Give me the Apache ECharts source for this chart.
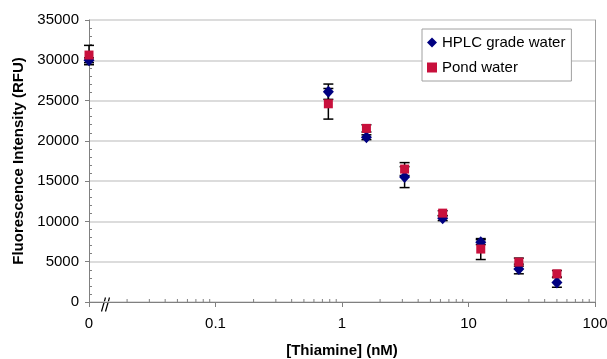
<!DOCTYPE html>
<html>
<head>
<meta charset="utf-8">
<script src="https://cdn.jsdelivr.net/npm/echarts@6/dist/echarts.min.js"></script>
<style>
  html, body { margin: 0; padding: 0; background: #fff; }
  #chart { width: 607px; height: 359px; }
</style>
</head>
<body>
<div id="chart"></div>
<script>
// concentration in nM; the "0" sample sits at the left end of the axis (0.01, shown as 0)
const concentrations = [0.01, 0.78, 1.56, 3.125, 6.25, 12.5, 25, 50];
const hplcValues = [30000, 26100, 20450, 15500, 10400, 7430, 4100, 2430];
const hplcErrors = [300, 950, 300, 1300, 300, 300, 600, 600];
const pondValues = [30650, 24600, 21550, 16500, 11030, 6570, 4950, 3500];
const pondErrors = [1200, 1900, 450, 800, 300, 1300, 500, 400];
const xMinorTicks = [0.02, 0.03, 0.04, 0.05, 0.06, 0.07, 0.08, 0.09,
  0.2, 0.3, 0.4, 0.5, 0.6, 0.7, 0.8, 0.9,
  2, 3, 4, 5, 6, 7, 8, 9,
  20, 30, 40, 50, 60, 70, 80, 90];

const FONT = 'Arial, "Liberation Sans", sans-serif';
const HPLC_COLOR = '#000080';
const POND_COLOR = '#c8103c';

const chart = echarts.init(document.getElementById('chart'), null, { renderer: 'canvas' });

// error bars with caps, drawn under the markers
function errorBars(values, errors) {
  return {
    type: 'custom',
    clip: false,
    z: 1,
    silent: true,
    data: concentrations.map((c, i) => [c, values[i] - errors[i], values[i] + errors[i]]),
    renderItem: function (params, api) {
      const lo = api.coord([api.value(0), api.value(1)]);
      const hi = api.coord([api.value(0), api.value(2)]);
      const half = 5;
      const style = { stroke: '#000', lineWidth: 1.5 };
      return {
        type: 'group',
        children: [
          { type: 'line', shape: { x1: lo[0], y1: lo[1], x2: hi[0], y2: hi[1] }, style: style },
          { type: 'line', shape: { x1: lo[0] - half, y1: lo[1], x2: lo[0] + half, y2: lo[1] }, style: style },
          { type: 'line', shape: { x1: hi[0] - half, y1: hi[1], x2: hi[0] + half, y2: hi[1] }, style: style }
        ]
      };
    }
  };
}

const option = {
  animation: false,
  textStyle: { fontFamily: FONT },
  grid: { left: 89, right: 12, top: 20, bottom: 57, containLabel: false, outerBoundsMode: 'none' },
  legend: {
    orient: 'vertical',
    left: 422,
    top: 29,
    padding: [6, 6, 6, 5],
    itemGap: 10,
    itemWidth: 10,
    itemHeight: 10,
    backgroundColor: '#fff',
    borderColor: '#a0a0a0',
    borderWidth: 1,
    textStyle: { fontFamily: FONT, fontSize: 15, color: '#000' },
    data: [
      { name: 'HPLC grade water', icon: 'diamond' },
      { name: 'Pond water', icon: 'rect' }
    ]
  },
  xAxis: {
    type: 'log',
    logBase: 10,
    min: 0.01,
    max: 100,
    name: '[Thiamine] (nM)',
    nameLocation: 'middle',
    nameGap: 41,
    nameTextStyle: { fontFamily: FONT, fontSize: 15, fontWeight: 'bold', color: '#000' },
    axisLine: { lineStyle: { color: '#808080', width: 1 } },
    axisTick: { show: true, length: 5, lineStyle: { color: '#808080' } },
    axisLabel: {
      margin: 14,
      fontFamily: FONT,
      fontSize: 15,
      color: '#000',
      formatter: function (v) { return v < 0.05 ? '0' : String(+Number(v).toPrecision(3)); }
    },
    splitLine: { show: false }
  },
  yAxis: [{
    type: 'value',
    min: 0,
    max: 35000,
    interval: 5000,
    name: 'Fluorescence Intensity (RFU)',
    nameLocation: 'middle',
    nameGap: 60,
    nameTextStyle: { fontFamily: FONT, fontSize: 15, fontWeight: 'bold', color: '#000' },
    axisLine: { show: true, lineStyle: { color: '#808080', width: 1 } },
    axisTick: { show: true, length: 4, lineStyle: { color: '#808080' } },
    minorTick: { show: true, splitNumber: 5, length: -3, lineStyle: { color: '#808080' } },
    axisLabel: {
      margin: 10,
      fontFamily: FONT,
      fontSize: 15,
      color: '#000',
      formatter: function (v) { return String(v); }
    },
    splitLine: { lineStyle: { color: '#d0d0d0', width: 1.5 } }
  }, {
    type: 'value',
    position: 'right',
    min: 0,
    max: 35000,
    axisLine: { show: true, lineStyle: { color: '#a0a0a0', width: 1 } },
    axisTick: { show: false },
    axisLabel: { show: false },
    splitLine: { show: false }
  }],
  graphic: [{
    type: 'group',
    left: 99,
    top: 295,
    children: [
      { type: 'line', shape: { x1: 0, y1: 14, x2: 4, y2: 0 }, style: { stroke: '#000', lineWidth: 1.2 } },
      { type: 'line', shape: { x1: 4, y1: 14, x2: 8, y2: 0 }, style: { stroke: '#000', lineWidth: 1.2 } }
    ]
  }],
  series: [
    {
      type: 'custom',
      clip: false,
      silent: true,
      z: 1,
      data: xMinorTicks.map(v => [v, 0]),
      renderItem: function (params, api) {
        const p = api.coord([api.value(0), 0]);
        return { type: 'line', shape: { x1: p[0], y1: p[1], x2: p[0], y2: p[1] - 3 }, style: { stroke: '#808080', lineWidth: 1 } };
      }
    },
    errorBars(hplcValues, hplcErrors),
    errorBars(pondValues, pondErrors),
    {
      name: 'HPLC grade water',
      type: 'scatter',
      symbol: 'diamond',
      symbolSize: [11, 12],
      clip: false,
      z: 3,
      itemStyle: { color: HPLC_COLOR, opacity: 1 },
      data: concentrations.map((c, i) => [c, hplcValues[i]])
    },
    {
      name: 'Pond water',
      type: 'scatter',
      symbol: 'rect',
      symbolSize: [9, 9],
      clip: false,
      z: 4,
      itemStyle: { color: POND_COLOR, opacity: 1 },
      data: concentrations.map((c, i) => [c, pondValues[i]])
    }
  ]
};

chart.setOption(option);
</script>
</body>
</html>
